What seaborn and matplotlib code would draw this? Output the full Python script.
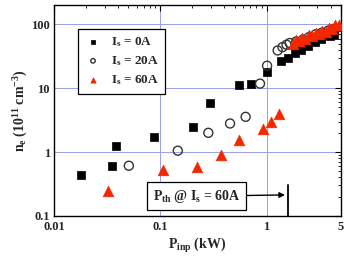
import matplotlib
matplotlib.use("Agg")
import matplotlib.pyplot as plt
import seaborn as sns
import pandas as pd
from matplotlib.ticker import LogLocator, FixedLocator, FixedFormatter, NullFormatter

sns.set_theme(style="white")
plt.rcParams['font.family'] = ['Liberation Serif', 'DejaVu Serif']
plt.rcParams['font.weight'] = 'bold'
plt.rcParams['mathtext.fontset'] = 'custom'
plt.rcParams['mathtext.rm'] = 'Liberation Serif:bold'
plt.rcParams['mathtext.it'] = 'Liberation Serif:bold'
plt.rcParams['mathtext.bf'] = 'Liberation Serif:bold'

# Is = 0 A (black squares)
p0 = [0.018, 0.035, 0.038, 0.088, 0.204, 0.294, 0.553, 0.708, 1.0,
      1.37, 1.59, 1.83, 2.12, 2.45, 2.83, 3.27, 3.92, 4.3]
n0 = [0.44, 0.61, 1.23, 1.72, 2.48, 5.9, 11.4, 11.8, 18.0,
      26.7, 29.4, 35, 39, 45, 52, 58, 65, 67]
# Is = 20 A (open circles)
p20 = [0.0506, 0.146, 0.283, 0.453, 0.635, 0.867, 1.01,
       1.27, 1.41, 1.54, 1.65, 1.9, 2.2, 2.5, 2.9, 3.3, 3.8, 4.3]
n20 = [0.61, 1.05, 2.0, 2.8, 3.56, 11.8, 22.5,
       39, 44, 48, 51, 54, 58, 63, 70, 74, 80, 85]
# Is = 60 A (red triangles)
p60 = [0.0322, 0.105, 0.222, 0.371, 0.55, 0.92, 1.11, 1.31,
       1.76, 1.88, 2.0, 2.15, 2.3, 2.5, 2.7, 2.9, 3.1, 3.35, 3.6, 3.85, 4.1, 4.4, 4.75]
n60 = [0.243, 0.53, 0.58, 0.91, 1.54, 2.26, 2.97, 4.0,
       50, 56, 54, 62, 60, 67, 65, 73, 71, 80, 77, 88, 85, 96, 98]

labels = [r"$I_s$ = 0A", r"$I_s$ = 20A", r"$I_s$ = 60A"]
p_th = 1.6
x_ticks = [0.01, 0.1, 1, 5]
x_tick_labels = ["0.01", "0.1", "1", "5"]
y_ticks = [0.1, 1, 10, 100]
y_tick_labels = ["0.1", "1", "10", "100"]

fig = plt.figure(figsize=(3.44, 2.57), dpi=100)
ax = fig.add_axes([0.157, 0.16, 0.834, 0.82])

df0 = pd.DataFrame({"P": p0, "n": n0})
df20 = pd.DataFrame({"P": p20, "n": n20})
df60 = pd.DataFrame({"P": p60, "n": n60})

sns.scatterplot(data=df0, x="P", y="n", ax=ax, marker="s", s=32, color="black",
                edgecolor="black", linewidth=0.5, label=labels[0], zorder=3)
sns.scatterplot(data=df20, x="P", y="n", ax=ax, marker="o", s=42, facecolor="none",
                edgecolor="#333333", linewidth=1.0, label=labels[1], zorder=3)
sns.scatterplot(data=df60, x="P", y="n", ax=ax, marker="^", s=58, color="#f42800",
                edgecolor="#f42800", linewidth=0.5, label=labels[2], zorder=4)

ax.set_xscale("log")
ax.set_yscale("log")
ax.set_xlim(0.01, 5)
ax.set_ylim(0.1, 200)

ax.xaxis.set_major_locator(FixedLocator(x_ticks))
ax.xaxis.set_major_formatter(FixedFormatter(x_tick_labels))
ax.xaxis.set_minor_locator(LogLocator(base=10, subs=range(2, 10)))
ax.xaxis.set_minor_formatter(NullFormatter())
ax.yaxis.set_major_locator(FixedLocator(y_ticks))
ax.yaxis.set_major_formatter(FixedFormatter(y_tick_labels))
ax.yaxis.set_minor_locator(LogLocator(base=10, subs=range(2, 10)))
ax.yaxis.set_minor_formatter(NullFormatter())

ax.tick_params(which="both", direction="in", top=True, right=True, color="black")
ax.tick_params(which="major", length=4, width=0.8, labelsize=9)
ax.tick_params(axis="x", which="major", pad=4)
ax.tick_params(axis="y", which="major", pad=3)
ax.tick_params(which="minor", length=2, width=0.6)
for lab in ax.get_xticklabels() + ax.get_yticklabels():
    lab.set_fontweight("bold")

ax.grid(True, which="major", color="#9a9ee6", linewidth=0.7)
ax.set_axisbelow(True)
for sp in ax.spines.values():
    sp.set_color("black")
    sp.set_linewidth(1.0)

ax.set_xlabel(r"$P_{inp}$ (kW)", fontsize=10, fontweight="bold", labelpad=2)
ax.set_ylabel(r"$n_e$ ($10^{11}$ cm$^{-3}$)", fontsize=10, fontweight="bold", labelpad=1)

leg = ax.legend(loc="upper left", bbox_to_anchor=(0.06, 0.92), fontsize=9.5,
                frameon=True, fancybox=False, edgecolor="black", framealpha=1,
                markerscale=0.5, handletextpad=0.7, borderpad=0.5, labelspacing=0.4,
                handlelength=1.3)
leg.get_frame().set_linewidth(0.9)

# threshold marker
ax.plot([p_th, p_th], [0.1, 0.30], color="black", linewidth=1.3, zorder=5)
ax.annotate(r"$P_{th}$ @ $I_s$ = 60A", xy=(p_th * 0.93, 0.213), xytext=(0.22, 0.203),
            xycoords="data", textcoords="data", fontsize=10, ha="center", va="center",
            bbox=dict(boxstyle="square,pad=0.4", fc="white", ec="black", lw=0.9),
            arrowprops=dict(arrowstyle="-|>", color="black", lw=1.0,
                            mutation_scale=8, shrinkA=0, shrinkB=0),
            zorder=6)

fig.savefig("out.png", dpi=100)
